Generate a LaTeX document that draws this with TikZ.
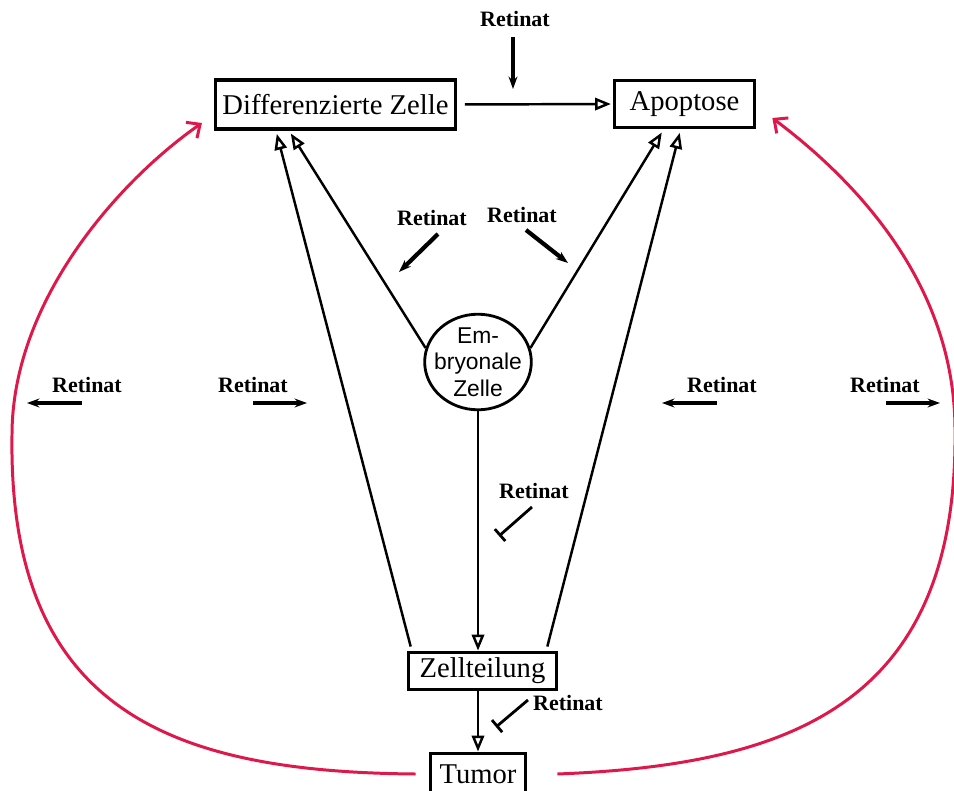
\documentclass[tikz,border=0pt]{standalone}
\usepackage{fontspec}
\setmainfont{Liberation Serif}
\newfontfamily\embfont{Liberation Sans}
\usetikzlibrary{arrows.meta,shapes.geometric}
\definecolor{crimson}{RGB}{222,24,74}

\begin{document}
\begin{tikzpicture}[x=0.02cm, y=-0.02cm,
    box/.style={draw, line width=1.8pt, inner sep=0pt, font=\fontsize{16.3}{19}\selectfont},
    cell/.style={draw, ellipse, line width=1.6pt, minimum width=60.7pt, minimum height=54.4pt, inner xsep=-4pt, inner ysep=-1pt, align=center, font=\embfont\fontsize{13}{15}\selectfont},
    ret/.style={inner sep=0pt, font=\bfseries\fontsize{12.5}{14}\selectfont},
    flow/.style={line width=1.4pt, -{Triangle[open, length=9pt, width=7pt]}},
    retarrow/.style={line width=2.4pt, -{Stealth[length=7pt, width=5pt]}},
    block/.style={line width=1.6pt, -{Bar[width=9pt]}},
    feedback/.style={draw=crimson, line width=1.7pt, -{Straight Barb[length=6pt, width=11pt]}}]
            \useasboundingbox (0,0) rectangle (954,791);
            % boxes
            \draw (335.5, 104.5) node[box, minimum width=136.6pt, minimum height=27.8pt](diff){Differenzierte Zelle};
            \draw (684.5, 104) node[box, minimum width=80pt, minimum height=27.2pt](apo){Apoptose};
            \draw (478, 362) node[cell](emb){Em-\\bryonale\\Zelle};
            \draw (482.5, 671) node[box, minimum width=84.5pt, minimum height=21.5pt](zell){Zellteilung};
            \draw (478, 774) node[box, minimum width=54.4pt, minimum height=23.8pt](tumor){Tumor};
            % main arrows
            \draw[flow, shorten <=4.5pt, shorten >=1pt] (diff.east) -- (apo.west);
            \draw[flow, shorten >=2pt] (emb.165) -- ([xshift=1.5cm]diff.south west);
            \draw[flow, shorten >=2pt] ([xshift=0.08cm, yshift=0.08cm]zell.north west) -- ([xshift=1.24cm]diff.south west);
            \draw[flow, shorten >=2pt] (emb.15) -- ([xshift=1.02cm]apo.south west);
            \draw[flow, shorten >=2pt] ([xshift=-0.22cm, yshift=0.08cm]zell.north east) -- ([xshift=1.36cm]apo.south west);
            \draw[flow] (emb.south) -- (emb.south |- zell.north);
            \draw[flow] (tumor.north |- zell.south) -- (tumor.north);
            % feedback loops
            \draw[feedback] ([xshift=-0.26cm]tumor.west) .. controls (170, 772) and (8, 710) .. (12, 435)
                .. controls (12, 300) and (120, 180) .. ([xshift=-0.24cm, yshift=-0.37cm]diff.west);
            \draw[feedback] ([xshift=0.6cm]tumor.east) .. controls (790, 765) and (958, 705) .. (955, 430)
                .. controls (955, 300) and (876, 196) .. ([xshift=0.32cm, yshift=-0.28cm]apo.east);
            % Retinat
            \draw (515, 19) node[ret](ret1){Retinat};
            \draw (432, 218) node[ret](ret2){Retinat};
            \draw (522, 215) node[ret](ret3){Retinat};
            \draw (87, 385) node[ret](ret4){Retinat};
            \draw (253, 385) node[ret](ret5){Retinat};
            \draw (722, 385) node[ret](ret6){Retinat};
            \draw (885, 385) node[ret](ret7){Retinat};
            \draw (534, 491) node[ret](ret8){Retinat};
            \draw (568, 703) node[ret](ret9){Retinat};
            \coordinate (r1a) at (513, 37);  \coordinate (r1b) at (513, 89);
            \coordinate (r2a) at (438, 234); \coordinate (r2b) at (399, 272);
            \coordinate (r3a) at (526, 230); \coordinate (r3b) at (568, 263);
            \coordinate (r4a) at (82, 403);  \coordinate (r4b) at (27, 403);
            \coordinate (r5a) at (253, 403); \coordinate (r5b) at (307, 403);
            \coordinate (r6a) at (717, 403); \coordinate (r6b) at (662, 403);
            \coordinate (r7a) at (886, 403); \coordinate (r7b) at (940, 403);
            \coordinate (r8a) at (532, 507); \coordinate (r8b) at (499, 536);
            \coordinate (r9a) at (528, 700); \coordinate (r9b) at (496, 727);
            \draw[retarrow] (r1a) -- (r1b);
            \draw[retarrow] (r2a) -- (r2b);
            \draw[retarrow] (r3a) -- (r3b);
            \draw[retarrow] (r4a) -- (r4b);
            \draw[retarrow] (r5a) -- (r5b);
            \draw[retarrow] (r6a) -- (r6b);
            \draw[retarrow] (r7a) -- (r7b);
            \draw[block] (r8a) -- (r8b);
            \draw[block] (r9a) -- (r9b);
        \end{tikzpicture}
\end{document}
